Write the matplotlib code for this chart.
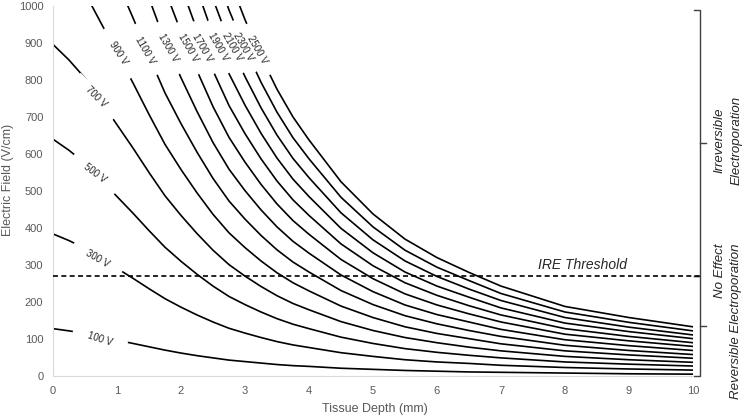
import matplotlib
matplotlib.use("Agg")
import matplotlib.pyplot as plt

plt.rcParams['font.family'] = ['Liberation Sans', 'DejaVu Sans']

# tissue depth (mm) where the field was read
depth = [0, 0.25, 0.5, 0.75, 1, 1.25, 1.5, 1.75, 2, 2.25, 2.5, 2.75, 3, 3.25, 3.5,
         3.75, 4, 4.5, 5, 5.5, 6, 6.5, 7, 8, 9, 10]

# electric field (V/cm) for each applied voltage
e_100 = [128, 122, 115, 106, 97, 88, 79, 70, 62, 55, 49, 43, 39, 35, 31,
         28, 26, 21, 18, 15, 13, 11, 10, 8, 6, 5]
e_300 = [384, 366, 345, 318, 291, 264, 236, 209, 186, 165, 146, 129, 116, 104, 93,
         84, 77, 63, 53, 44, 38, 34, 29, 23, 19, 16]
e_500 = [640, 610, 575, 530, 485, 440, 393, 348, 310, 275, 243, 215, 193, 173, 155,
         140, 128, 105, 88, 74, 64, 56, 49, 38, 32, 27]
e_700 = [896, 854, 805, 742, 679, 616, 550, 487, 434, 385, 340, 301, 270, 242, 217,
         196, 179, 147, 123, 104, 90, 78, 68, 53, 44, 37]
e_900 = [1152, 1098, 1035, 954, 873, 792, 707, 626, 558, 495, 437, 387, 347, 311, 279,
         252, 230, 189, 158, 133, 115, 101, 87, 68, 57, 48]
e_1100 = [1408, 1342, 1265, 1166, 1067, 968, 864, 765, 682, 605, 534, 473, 424, 380, 341,
          308, 281, 231, 193, 163, 141, 123, 107, 83, 69, 58]
e_1300 = [1664, 1586, 1495, 1378, 1261, 1144, 1021, 904, 806, 715, 631, 559, 501, 449, 403,
          364, 332, 273, 228, 192, 166, 146, 126, 98, 82, 69]
e_1500 = [1920, 1830, 1725, 1590, 1455, 1320, 1178, 1043, 930, 825, 728, 645, 578, 518, 465,
          420, 383, 315, 263, 222, 192, 168, 146, 113, 95, 80]
e_1700 = [2176, 2074, 1955, 1802, 1649, 1496, 1335, 1182, 1054, 935, 825, 731, 655, 587, 527,
          476, 434, 357, 298, 252, 218, 190, 165, 128, 107, 90]
e_1900 = [2432, 2318, 2185, 2014, 1843, 1672, 1492, 1321, 1178, 1045, 922, 817, 732, 656, 589,
          532, 485, 399, 333, 281, 243, 213, 184, 143, 120, 101]
e_2100 = [2688, 2562, 2415, 2226, 2037, 1848, 1649, 1460, 1302, 1155, 1019, 903, 809, 725, 651,
          588, 536, 441, 368, 311, 269, 235, 204, 158, 132, 111]
e_2300 = [2944, 2806, 2645, 2438, 2231, 2024, 1806, 1599, 1426, 1265, 1116, 989, 886, 794, 713,
          644, 587, 483, 403, 340, 294, 258, 223, 173, 145, 122]
e_2500 = [3200, 3050, 2875, 2650, 2425, 2200, 1963, 1738, 1550, 1375, 1213, 1075, 963, 863, 775,
          700, 638, 525, 438, 370, 320, 280, 243, 188, 158, 133]

voltages = [100, 300, 500, 700, 900, 1100, 1300, 1500, 1700, 1900, 2100, 2300, 2500]
curves = [e_100, e_300, e_500, e_700, e_900, e_1100, e_1300, e_1500,
          e_1700, e_1900, e_2100, e_2300, e_2500]

ire_threshold = 270

# where the inline voltage labels sit
label_x = [0.73, 0.69, 0.66, 0.67, 1.02, 1.44, 1.80, 2.11, 2.34, 2.58, 2.80, 2.97, 3.19]
label_y = [100, 316, 549, 754, 873, 881, 886, 886, 886, 889, 889, 889, 881]
label_rot = [-18, -30, -37, -45, -57, -60, -60, -60, -60, -60, -60, -60, -60]

fig = plt.figure(figsize=(7.52, 4.19), dpi=100)
ax = fig.add_axes([0.0705, 0.1026, 0.851, 0.8831])

for e in curves:
    ax.plot(depth, e, color='black', lw=1.2, zorder=2)

# white masks cut the lines where the labels go, then the labels on top
for v, x, y, r in zip(voltages, label_x, label_y, label_rot):
    lbl = f"{v} V"
    pad = ' ' * (5 if v < 1000 else 4)
    ax.text(x, y, pad + lbl + pad, rotation=r, rotation_mode='anchor',
            ha='center', va='center', fontsize=7, color='white',
            bbox=dict(boxstyle='square,pad=0.15', fc='white', ec='none'), zorder=3)
    ax.text(x, y, lbl, rotation=r, rotation_mode='anchor',
            ha='center', va='center', fontsize=7, color='#262626', zorder=4)

bx = 10.11
ax.plot([0, bx], [ire_threshold, ire_threshold], color='black', lw=1.2,
        ls=(0, (3, 2)), clip_on=False, zorder=5)
ax.text(8.28, ire_threshold + 10, 'IRE Threshold', style='italic', fontsize=10,
        ha='center', va='bottom', color='#262626')

# brackets on the right
h = 0.09
ax.plot([bx - h, bx, bx, bx - h], [990, 990, ire_threshold, ire_threshold],
        color='#404040', lw=1, clip_on=False)
ax.plot([bx, bx + h], [630, 630], color='#404040', lw=1, clip_on=False)
ax.plot([bx - h, bx, bx, bx - h], [ire_threshold, ire_threshold, 0, 0],
        color='#404040', lw=1, clip_on=False)
ax.plot([bx, bx + h], [135, 135], color='#404040', lw=1, clip_on=False)

fig.text(728 / 752, 1 - 140 / 419, 'Irreversible\nElectroporation', rotation=90,
         style='italic', fontsize=9.5, ha='center', va='center', linespacing=1.5,
         color='#262626')
fig.text(728 / 752, 1 - 321 / 419, 'No Effect\nReversible Electroporation', rotation=90,
         style='italic', fontsize=9.5, ha='center', va='center', linespacing=1.5,
         multialignment='right', color='#262626')

ax.set_xlim(0, 10)
ax.set_ylim(0, 1000)
ax.set_xticks(range(11))
ax.set_yticks(range(0, 1001, 100))
ax.tick_params(length=0, labelsize=8, colors='#595959', pad=7)
for s in ['top', 'right']:
    ax.spines[s].set_visible(False)
for s in ['left', 'bottom']:
    ax.spines[s].set_color('#d9d9d9')

fig.text(375 / 752, 1 - 409 / 419, 'Tissue Depth (mm)', fontsize=9, color='#595959',
         ha='center', va='center')
fig.text(8 / 752, 1 - 180 / 419, 'Electric Field (V/cm)', fontsize=9, color='#595959',
         rotation=90, ha='center', va='center')

fig.savefig('out.png', dpi=100)
